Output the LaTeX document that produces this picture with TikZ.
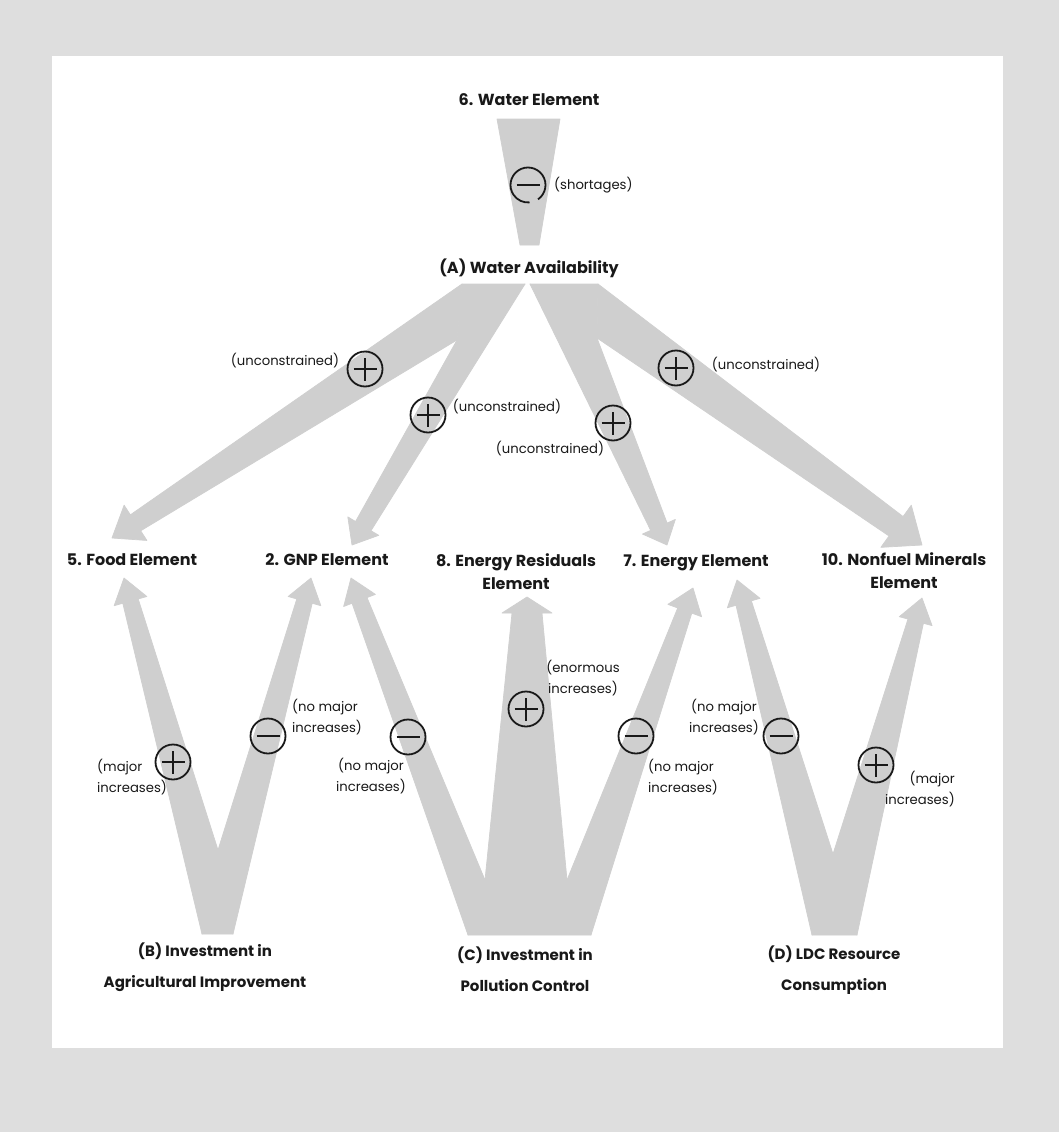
\documentclass[tikz,border=0pt]{standalone}
\usepackage{fontspec}
\setmainfont{Poppins}
\usetikzlibrary{calc}
\definecolor{panelgrey}{RGB}{222,222,222}
\definecolor{bandgrey}{RGB}{207,207,207}
\definecolor{ink}{RGB}{25,25,25}

% A tapering arm with a triangular head.
% #1 name, #2 tail corner on the left of the direction of travel, #3 tail corner on the right,
% #4 point on the axis behind the head, #5 tip, #6 shaft half width at the head,
% #7 head length, #8 head half width
\newcommand\fatarm[8]{%
  \coordinate (#1-base) at ($(#5)!#7!(#4)$);
  \coordinate (#1-sl) at ($(#1-base)!#6!90:(#5)$);
  \coordinate (#1-sr) at ($(#1-base)!#6!-90:(#5)$);
  \coordinate (#1-hl) at ($(#1-base)!#8!90:(#5)$);
  \coordinate (#1-hr) at ($(#1-base)!#8!-90:(#5)$);
  \filldraw[band] (#2) -- (#1-sl) -- (#1-hl) -- (#5) -- (#1-hr) -- (#1-sr) -- (#3) -- cycle;
}

\tikzset{
  band/.style={fill=bandgrey, draw=bandgrey, line width=0.7pt, line join=round},
  hdr/.style={font=\fontsize{16}{23}\selectfont\bfseries, text=ink, inner sep=0pt, align=center},
  hdrwide/.style={font=\fontsize{15}{31}\selectfont\bfseries, text=ink, inner sep=0pt, align=center},
  lbl/.style={font=\fontsize{13.2}{21}\selectfont, text=ink, inner sep=0pt},
  sgn/.style={circle, draw=ink, line width=1.8pt, minimum size=35pt, inner sep=0pt},
  plussign/.style={sgn, path picture={\draw[ink, line width=1.1pt]
      ([xshift=-11.5pt]path picture bounding box.center) -- ([xshift=11.5pt]path picture bounding box.center)
      ([yshift=-11.5pt]path picture bounding box.center) -- ([yshift=11.5pt]path picture bounding box.center);}},
  minussign/.style={sgn, path picture={\draw[ink, line width=1.6pt]
      ([xshift=-11.5pt]path picture bounding box.center) -- ([xshift=11.5pt]path picture bounding box.center);}},
}

\begin{document}
\begin{tikzpicture}[x=1pt, y=-1pt]
\fill[panelgrey] (0,0) rectangle (1059,1132);
\fill[white] (52,56) rectangle (1003,1048);
\useasboundingbox (0,0) rectangle (1059,1132);

% element and sector names
\node[hdr] (water) at (529,100) {6. Water Element};
\node[hdr] (avail) at (529,268) {(A) Water Availability};
\node[hdr] (food) at (132,560) {5. Food Element};
\node[hdr] (gnp) at (327,560) {2. GNP Element};
\node[hdr] (resid) at (516,571.5) {8. Energy Residuals\\Element};
\node[hdr] (energy) at (696,563) {7. Energy Element};
\node[hdr] (nonfuel) at (904,571) {10. Nonfuel Minerals\\Element};
\node[hdrwide] (agri) at (205,967) {(B) Investment in\\Agricultural Improvement};
\node[hdrwide] (pollu) at (525,969) {(C) Investment in\\Pollution Control};
\node[hdrwide] (ldc) at (834,970) {(D) LDC Resource\\Consumption};

% water element feeding water availability
\filldraw[band] (497,119) -- (560,119) -- (539,245) -- (520,245) -- cycle;

% fan out of water availability
\coordinate (aL1) at (462,284); \coordinate (aL2) at (525,284); \coordinate (aLn) at (457,340);
\coordinate (aR1) at (530,284); \coordinate (aR2) at (598,284); \coordinate (aRn) at (597,338);
\filldraw[band] (aL1) -- (aL2) -- (aLn) -- cycle;
\filldraw[band] (aR1) -- (aR2) -- (aRn) -- cycle;
\fatarm{aFood}{aLn}{aL1}{462,312}{112,538}{9.5pt}{28pt}{21pt}
\fatarm{aGnp}{aL2}{aLn}{491,312}{352,545}{9pt}{22pt}{18pt}
\fatarm{aEn}{aRn}{aR1}{563,311}{667,545}{9pt}{20pt}{18pt}
\fatarm{aNf}{aR2}{aRn}{598,311}{922,545}{12pt}{32pt}{26pt}

% investment in agricultural improvement
\coordinate (bL) at (202,934); \coordinate (bR) at (233,934); \coordinate (bN) at (218,850);
\filldraw[band] (bL) -- (bR) -- (bN) -- cycle;
\fatarm{bFood}{bL}{bN}{209,880}{124,578}{8pt}{24pt}{17pt}
\fatarm{bGnp}{bN}{bR}{226,880}{311,578}{8pt}{24pt}{17pt}

% investment in pollution control
\coordinate (cL) at (468,935); \coordinate (cR) at (591,935);
\coordinate (cN1) at (485,880); \coordinate (cN2) at (567,880);
\filldraw[band] (cL) -- (cR) -- (cN2) -- (cN1) -- cycle;
\fatarm{cGnp}{cL}{cN1}{466,880}{351,578}{8pt}{24pt}{17pt}
\fatarm{cRes}{cN1}{cN2}{527,883}{527,597}{15pt}{16pt}{25pt}
\fatarm{cEn}{cN2}{cR}{586,880}{693,588}{7.5pt}{24pt}{18pt}

% LDC resource consumption
\coordinate (dL) at (812,935); \coordinate (dR) at (857,935); \coordinate (dN) at (833,854);
\filldraw[band] (dL) -- (dR) -- (dN) -- cycle;
\fatarm{dEn}{dL}{dN}{824,880}{737,580}{8pt}{24pt}{17pt}
\fatarm{dNf}{dN}{dR}{845,880}{922,598}{8pt}{24pt}{17pt}

% signs on the arms
\node (sW) at (528,185) {};
\draw[ink, line width=1.8pt] ($(sW)+(305:17.5pt)$) arc[start angle=305, end angle=635, radius=17.5pt];
\draw[ink, line width=1.6pt] ($(sW)+(-11.5pt,0)$) -- ($(sW)+(11.5pt,0)$);
\node[plussign] (sAFood) at (365,369) {};
\node[plussign] (sAGnp) at (428,415) {};
\node[plussign] (sAEn) at (613,423) {};
\node[plussign] (sANf) at (676,368) {};
\node[plussign] (sBFood) at (173,762) {};
\node[minussign] (sBGnp) at (268,736) {};
\node[minussign] (sCGnp) at (408,737) {};
\node[plussign] (sCRes) at (526,709) {};
\node[minussign] (sCEn) at (636,736) {};
\node[minussign] (sDEn) at (781,736) {};
\node[plussign] (sDNf) at (876,765) {};

% qualifiers
\node[lbl, anchor=west] (tW) at (554,185) {(shortages)};
\node[lbl] (tAFood) at (285,361) {(unconstrained)};
\node[lbl] (tAGnp) at (507,407) {(unconstrained)};
\node[lbl] (tAEn) at (550,449) {(unconstrained)};
\node[lbl] (tANf) at (766,365) {(unconstrained)};
\node[lbl, anchor=west, align=left] (tBFood) at (97,777.5) {(major\\increases)};
\node[lbl, anchor=west, align=left] (tBGnp) at (292,717.5) {(no major\\increases)};
\node[lbl, align=center] (tCGnp) at (371,776) {(no major\\increases)};
\node[lbl, align=center] (tCRes) at (583,678) {(enormous\\increases)};
\node[lbl, anchor=west, align=left] (tCEn) at (648,777) {(no major\\increases)};
\node[lbl, align=center] (tDEn) at (724,717.5) {(no major\\increases)};
\node[lbl, anchor=east, align=right] (tDNf) at (955,789) {(major\\increases)};
\end{tikzpicture}
\end{document}
